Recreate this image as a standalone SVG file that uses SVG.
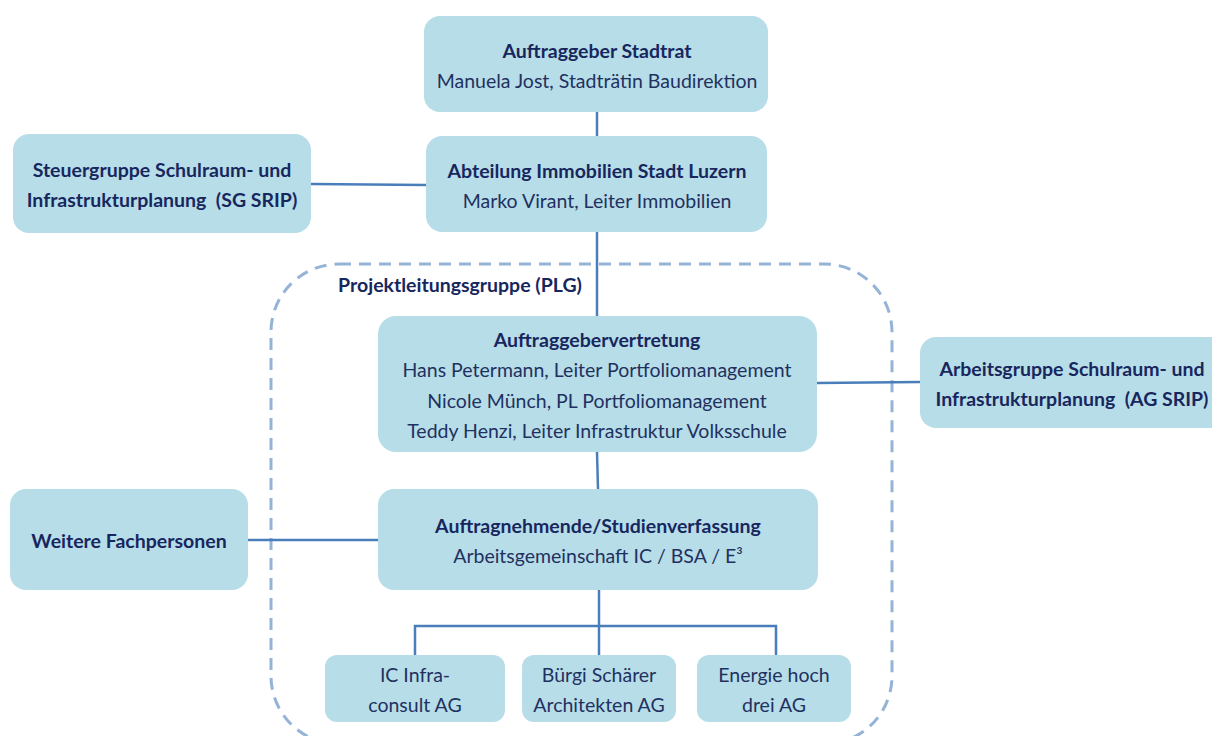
<svg xmlns="http://www.w3.org/2000/svg" width="1212" height="736" viewBox="0 0 1212 736">
<style>
.box{fill:#b7dde8;}
.t{font-family:Lato,"Open Sans","Liberation Sans",sans-serif;font-size:19.5px;fill:#1f3160;text-anchor:middle;white-space:pre;}
.b{font-weight:bold;fill:#17275e;}
.c{stroke:#4a7ebb;stroke-width:2.5;fill:none;}
.d{stroke:#95b3d7;stroke-width:3;fill:none;stroke-dasharray:12 8;}
</style>
<rect width="1212" height="736" fill="#ffffff"/>
<g id="plg">
<rect class="d" x="271" y="264" width="621" height="480" rx="68"/>
<text class="t b" x="460" y="292">Projektleitungsgruppe (PLG)</text>
</g>
<g id="connectors">
<line class="c" x1="597" y1="112" x2="597" y2="136"/>
<line class="c" x1="311" y1="184" x2="426" y2="185"/>
<line class="c" x1="597" y1="232" x2="597" y2="316"/>
<line class="c" x1="817" y1="383" x2="920" y2="382"/>
<line class="c" x1="597" y1="452" x2="598" y2="489"/>
<line class="c" x1="248" y1="540" x2="378" y2="540"/>
<polyline class="c" points="599,590 599,626"/>
<polyline class="c" points="415,655 415,626 776,626 776,655"/>
<line class="c" x1="599" y1="626" x2="599" y2="655"/>
</g>
<g id="stadtrat">
<rect class="box" x="424" y="16" width="344" height="96" rx="16"/>
<text class="t b" x="597" y="58">Auftraggeber Stadtrat</text>
<text class="t" x="597" y="88">Manuela Jost, Stadträtin Baudirektion</text>
</g>
<g id="abteilung">
<rect class="box" x="426" y="136" width="341" height="96" rx="16"/>
<text class="t b" x="597" y="178">Abteilung Immobilien Stadt Luzern</text>
<text class="t" x="597" y="208">Marko Virant, Leiter Immobilien</text>
</g>
<g id="sgsrip">
<rect class="box" x="13" y="134" width="298" height="99" rx="16"/>
<text class="t b" x="162" y="177">Steuergruppe Schulraum- und</text>
<text class="t b" x="162" y="207">Infrastrukturplanung  (SG SRIP)</text>
</g>
<g id="agvertretung">
<rect class="box" x="378" y="316" width="439" height="136" rx="18"/>
<text class="t b" x="597" y="347">Auftraggebervertretung</text>
<text class="t" x="597" y="377">Hans Petermann, Leiter Portfoliomanagement</text>
<text class="t" x="597" y="408">Nicole Münch, PL Portfoliomanagement</text>
<text class="t" x="597" y="438">Teddy Henzi, Leiter Infrastruktur Volksschule</text>
</g>
<g id="agsrip">
<rect class="box" x="920" y="337" width="310" height="91" rx="16"/>
<text class="t b" x="1072" y="376">Arbeitsgruppe Schulraum- und</text>
<text class="t b" x="1072" y="406">Infrastrukturplanung  (AG SRIP)</text>
</g>
<g id="weitere">
<rect class="box" x="10" y="489" width="238" height="101" rx="16"/>
<text class="t b" x="129" y="548">Weitere Fachpersonen</text>
</g>
<g id="auftragnehmende">
<rect class="box" x="378" y="489" width="440" height="101" rx="16"/>
<text class="t b" x="598" y="533">Auftragnehmende/Studienverfassung</text>
<text class="t" x="598" y="563">Arbeitsgemeinschaft IC / BSA / E³</text>
</g>
<g id="ic">
<rect class="box" x="325" y="655" width="180" height="67" rx="12"/>
<text class="t" x="415" y="682">IC Infra-</text>
<text class="t" x="415" y="712">consult AG</text>
</g>
<g id="buergi">
<rect class="box" x="522" y="655" width="154" height="67" rx="12"/>
<text class="t" x="599" y="682">Bürgi Schärer</text>
<text class="t" x="599" y="712">Architekten AG</text>
</g>
<g id="energie">
<rect class="box" x="697" y="655" width="154" height="67" rx="12"/>
<text class="t" x="774" y="682">Energie hoch</text>
<text class="t" x="774" y="712">drei AG</text>
</g>
</svg>
